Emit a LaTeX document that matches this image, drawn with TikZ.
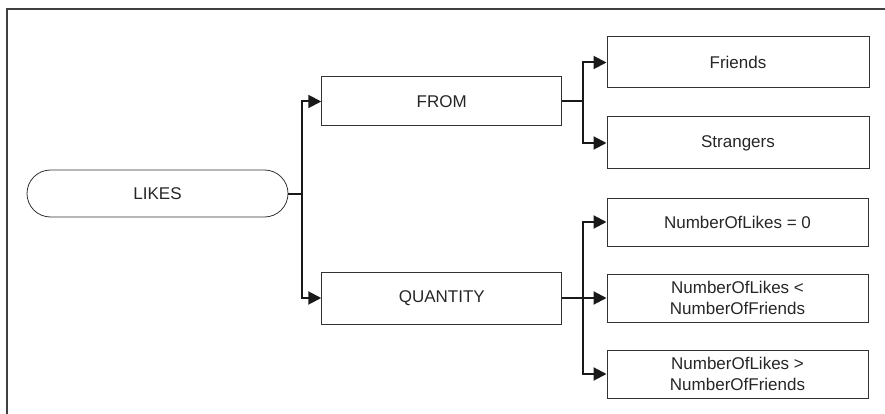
\documentclass[tikz,border=0pt]{standalone}
\usepackage{fontspec}
\setmainfont{Liberation Sans}
\usetikzlibrary{arrows.meta}
\begin{document}
\begin{tikzpicture}[x=1pt,y=-1pt,
  every node/.style={font=\fontsize{17}{21}\selectfont, text=black!85, align=center, inner sep=0pt},
  box/.style={draw=black!80, line width=1pt, minimum width=#1, minimum height=48},
  box/.default=261,
  pill/.style={draw=black!80, line width=0.8pt, rounded corners=23.5, minimum width=261, minimum height=47},
  link/.style={draw=black!90, line width=2pt},
  arr/.style={link, -{Triangle[length=13pt,width=13pt]}}
]
% page area and frame
\useasboundingbox (0,0) rectangle (885,414);
\draw[black!75, line width=2pt] (6.5,414) -- (6.5,9) -- (885,9);

% nodes
\node[pill] (likes) at (157.5,193.5) {LIKES};
\node[box=240, minimum height=49] (from) at (441.75,101.5) {FROM};
\node[box=240, minimum height=52] (qty) at (441.75,298) {QUANTITY};
\node[box=262, minimum height=51] (friends) at (738,62.5) {Friends};
\node[box=262, minimum height=52] (strangers) at (738,143) {Strangers};
\node[box] (n0) at (737.5,222) {NumberOfLikes = 0};
\node[box] (nlt) at (737.5,298) {NumberOfLikes <\\NumberOfFriends};
\node[box] (ngt) at (737.5,374) {NumberOfLikes >\\NumberOfFriends};

% branch points
\coordinate (t1) at (302,193.5);
\coordinate (t2) at (583,101.5);
\coordinate (t3) at (583,298);

% connectors
\draw[link] (likes.east) -- (t1);
\draw[arr] (t1) |- (from.west);
\draw[arr] (t1) |- (qty.west);
\draw[link] (from.east) -- (t2);
\draw[arr] (t2) |- (friends.west);
\draw[arr] (t2) |- (strangers.west);
\draw[link] (qty.east) -- (t3);
\draw[arr] (t3) |- (n0.west);
\draw[arr] (t3) -- (nlt.west);
\draw[arr] (t3) |- (ngt.west);
\end{tikzpicture}
\end{document}
